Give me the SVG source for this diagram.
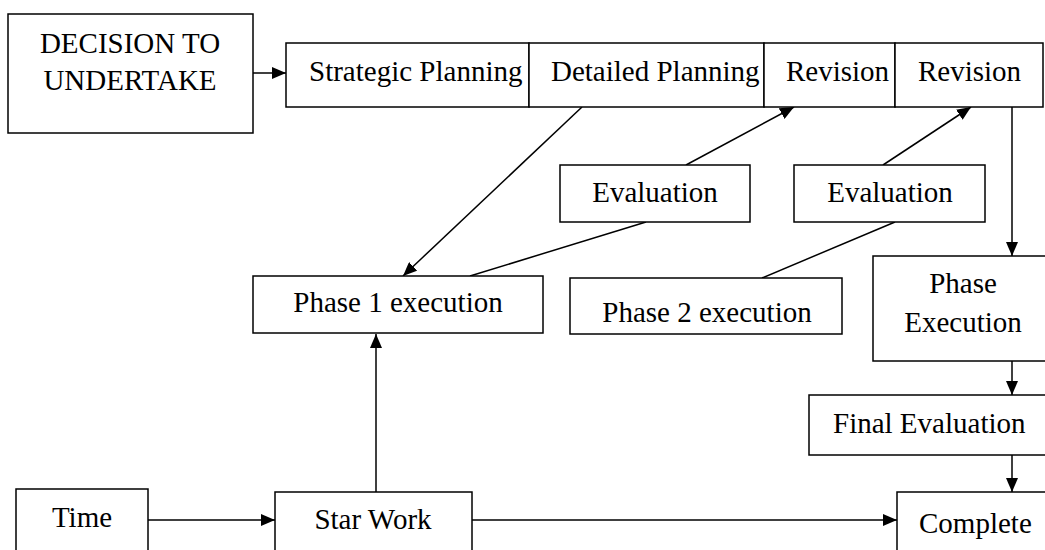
<svg xmlns="http://www.w3.org/2000/svg" width="1045" height="550" viewBox="0 0 1045 550">
<style>
.box{fill:#fff;stroke:#000;stroke-width:1.5}
.t{font-family:"Liberation Serif","Times New Roman",serif;font-size:29px;fill:#000}
.m{text-anchor:middle}
.ln{fill:none;stroke:#000;stroke-width:1.5}
.ar{marker-end:url(#ah)}
</style>
<defs>
<marker id="ah" markerUnits="userSpaceOnUse" markerWidth="14" markerHeight="12" refX="14" refY="6" orient="auto">
<path d="M0,0 L14,6 L0,12 z" fill="#000"/>
</marker>
</defs>
<rect width="1045" height="550" fill="#fff"/>
<g id="connectors">
<line class="ln ar" x1="253" y1="73" x2="286" y2="73"/>
<line class="ln ar" x1="582" y1="107" x2="403" y2="276"/>
<line class="ln ar" x1="686" y1="165" x2="794" y2="107"/>
<line class="ln ar" x1="883" y1="165" x2="971" y2="107"/>
<line class="ln" x1="646" y1="222" x2="470" y2="276"/>
<line class="ln" x1="895" y1="222" x2="762" y2="278"/>
<line class="ln ar" x1="1012" y1="107" x2="1012" y2="256"/>
<line class="ln ar" x1="1012" y1="361" x2="1012" y2="395"/>
<line class="ln ar" x1="1012" y1="455" x2="1012" y2="492"/>
<line class="ln ar" x1="148" y1="520" x2="275" y2="520"/>
<line class="ln ar" x1="472" y1="520" x2="897" y2="520"/>
<line class="ln ar" x1="376" y1="492" x2="376" y2="334"/>
</g>
<g id="decision"><rect class="box" x="8" y="14" width="245" height="119"/><text class="t m" x="130" y="53">DECISION TO</text><text class="t m" x="130" y="90">UNDERTAKE</text></g>
<g id="strategic"><rect class="box" x="286" y="43" width="243" height="64"/><text class="t" x="309" y="81">Strategic Planning</text></g>
<g id="detailed"><rect class="box" x="529" y="43" width="235" height="64"/><text class="t" x="551" y="81">Detailed Planning</text></g>
<g id="revision1"><rect class="box" x="764" y="43" width="131" height="64"/><text class="t" x="786" y="81">Revision</text></g>
<g id="revision2"><rect class="box" x="895" y="43" width="148" height="64"/><text class="t" x="918" y="81">Revision</text></g>
<g id="evaluation1"><rect class="box" x="560" y="165" width="190" height="57"/><text class="t m" x="655" y="202">Evaluation</text></g>
<g id="evaluation2"><rect class="box" x="794" y="165" width="191" height="57"/><text class="t m" x="890" y="202">Evaluation</text></g>
<g id="phase1"><rect class="box" x="253" y="276" width="290" height="57"/><text class="t m" x="398" y="312">Phase 1 execution</text></g>
<g id="phase2"><rect class="box" x="570" y="278" width="272" height="56"/><text class="t m" x="707" y="322">Phase 2 execution</text></g>
<g id="phaseexec"><rect class="box" x="873" y="256" width="190" height="105"/><text class="t m" x="963" y="293">Phase</text><text class="t m" x="963" y="332">Execution</text></g>
<g id="finaleval"><rect class="box" x="809" y="395" width="250" height="60"/><text class="t" x="833" y="433">Final Evaluation</text></g>
<g id="time"><rect class="box" x="16" y="489" width="132" height="80"/><text class="t m" x="82" y="527">Time</text></g>
<g id="starwork"><rect class="box" x="275" y="492" width="197" height="80"/><text class="t m" x="373" y="529">Star Work</text></g>
<g id="complete"><rect class="box" x="897" y="492" width="170" height="80"/><text class="t" x="919" y="533">Complete</text></g>
</svg>
